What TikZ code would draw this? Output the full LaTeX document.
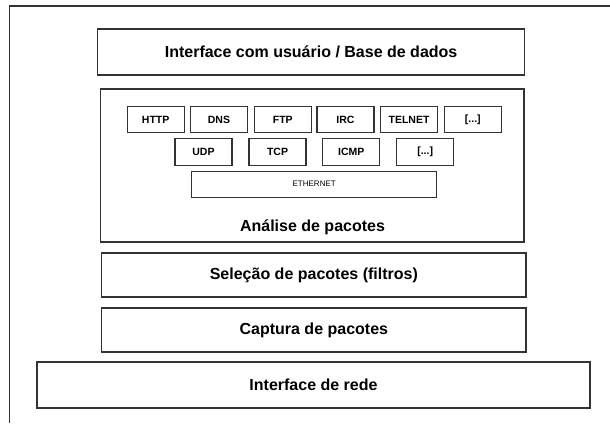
\documentclass[tikz,border=0pt]{standalone}
\usepackage{fontspec}
\setmainfont{Liberation Sans}
\definecolor{linha}{HTML}{333333}

\begin{document}
\begin{tikzpicture}[x = 1pt, y = -1pt,
  camada/.style = {draw = linha, line width = 1.2pt, inner sep = 0pt,
    font = \fontsize{16}{19}\selectfont\bfseries},
  proto/.style = {draw = linha, line width = 1.2pt, inner sep = 0pt,
    minimum width = 57pt, minimum height = 26pt,
    font = \fontsize{10.5}{12}\selectfont\bfseries}]
\useasboundingbox (0, 0) rectangle (610, 423);

% moldura
\draw[linha, line width = 1.2pt] (610, 6) -- (9.5, 6) -- (9.5, 423);

% camadas
\node[camada, minimum width = 427pt, minimum height = 46pt] (usuario) at (311.1, 52) {Interface com usuário / Base de dados};
\node[camada, minimum width = 423.5pt, minimum height = 153pt] (analise) at (312.25, 165.5) {};
\node[font = \fontsize{16}{19}\selectfont\bfseries] (analiselbl) at (312.5, 227) {Análise de pacotes};
\node[camada, minimum width = 424.3pt, minimum height = 44pt] (selecao) at (313.85, 275) {Seleção de pacotes (filtros)};
\node[camada, minimum width = 424.3pt, minimum height = 44pt] (captura) at (313.85, 330) {Captura de pacotes};
\node[camada, minimum width = 553pt, minimum height = 46pt] (rede) at (313.5, 385) {Interface de rede};

% aplicacao
\node[proto] (http) at (155.7, 119.5) {HTTP};
\node[proto] (dns) at (219, 119.5) {DNS};
\node[proto] (ftp) at (282.8, 119.5) {FTP};
\node[proto] (irc) at (345.5, 119.5) {IRC};
\node[proto] (telnet) at (409, 119.5) {TELNET};
\node[proto] (outrosA) at (472.8, 119.5) {[...]};

% transporte
\node[proto, minimum height = 27pt] (udp) at (203.5, 152) {UDP};
\node[proto, minimum height = 27pt] (tcp) at (277.5, 152) {TCP};
\node[proto, minimum height = 27pt] (icmp) at (351.3, 152) {ICMP};
\node[proto, minimum height = 27pt] (outrosB) at (425.2, 152) {[...]};

% enlace
\node[proto, minimum width = 245pt, font = \fontsize{8}{9}\selectfont] (ethernet) at (314.2, 184.2) {ETHERNET};

\end{tikzpicture}
\end{document}
